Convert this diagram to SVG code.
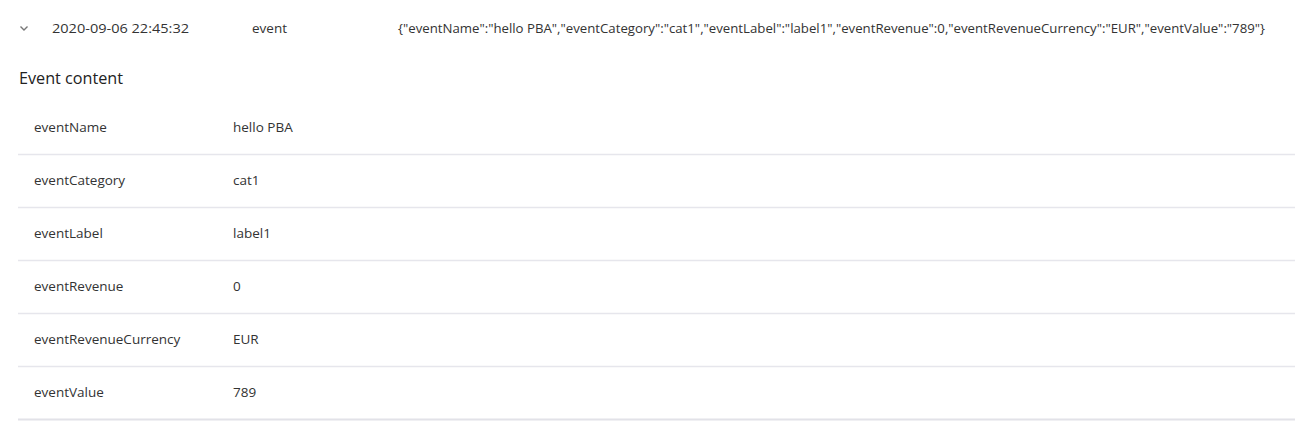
<svg xmlns="http://www.w3.org/2000/svg" width="1295" height="422" viewBox="0 0 1295 422">
<style>
text{font-family:"Open Sans","Liberation Sans",sans-serif;fill:#333;font-size:13.5px}
.h{font-size:16.2px;fill:#222}
.sep{stroke:#e6e6ec;stroke-width:1.3}
</style>
<rect width="1295" height="422" fill="#fff"/>
<g id="header-row">
<path d="M20.5 26.5 L24 30 L27.5 26.5" fill="none" stroke="#777" stroke-width="1.4"/>
<text x="52" y="33" textLength="137" lengthAdjust="spacingAndGlyphs">2020-09-06 22:45:32</text>
<text x="252" y="33">event</text>
<text x="398" y="33" textLength="867" lengthAdjust="spacingAndGlyphs">{"eventName":"hello PBA","eventCategory":"cat1","eventLabel":"label1","eventRevenue":0,"eventRevenueCurrency":"EUR","eventValue":"789"}</text>
</g>
<g id="title"><text class="h" x="19" y="84">Event content</text></g>
<g id="rows">
<g id="row-eventName"><text x="34" y="132">eventName</text><text x="233" y="132">hello PBA</text></g>
<g id="row-eventCategory"><text x="34" y="185">eventCategory</text><text x="233" y="185">cat1</text></g>
<g id="row-eventLabel"><text x="34" y="238">eventLabel</text><text x="233" y="238">label1</text></g>
<g id="row-eventRevenue"><text x="34" y="291">eventRevenue</text><text x="233" y="291">0</text></g>
<g id="row-eventRevenueCurrency"><text x="34" y="344">eventRevenueCurrency</text><text x="233" y="344">EUR</text></g>
<g id="row-eventValue"><text x="34" y="397">eventValue</text><text x="233" y="397">789</text></g>
</g>
<g id="separators">
<line class="sep" x1="18" y1="154.5" x2="1295" y2="154.5"/>
<line class="sep" x1="18" y1="207.5" x2="1295" y2="207.5"/>
<line class="sep" x1="18" y1="260.5" x2="1295" y2="260.5"/>
<line class="sep" x1="18" y1="313.5" x2="1295" y2="313.5"/>
<line class="sep" x1="18" y1="366.5" x2="1295" y2="366.5"/>
<line x1="18" y1="419.5" x2="1295" y2="419.5" stroke="#e2e2e8" stroke-width="2"/>
</g>
</svg>
